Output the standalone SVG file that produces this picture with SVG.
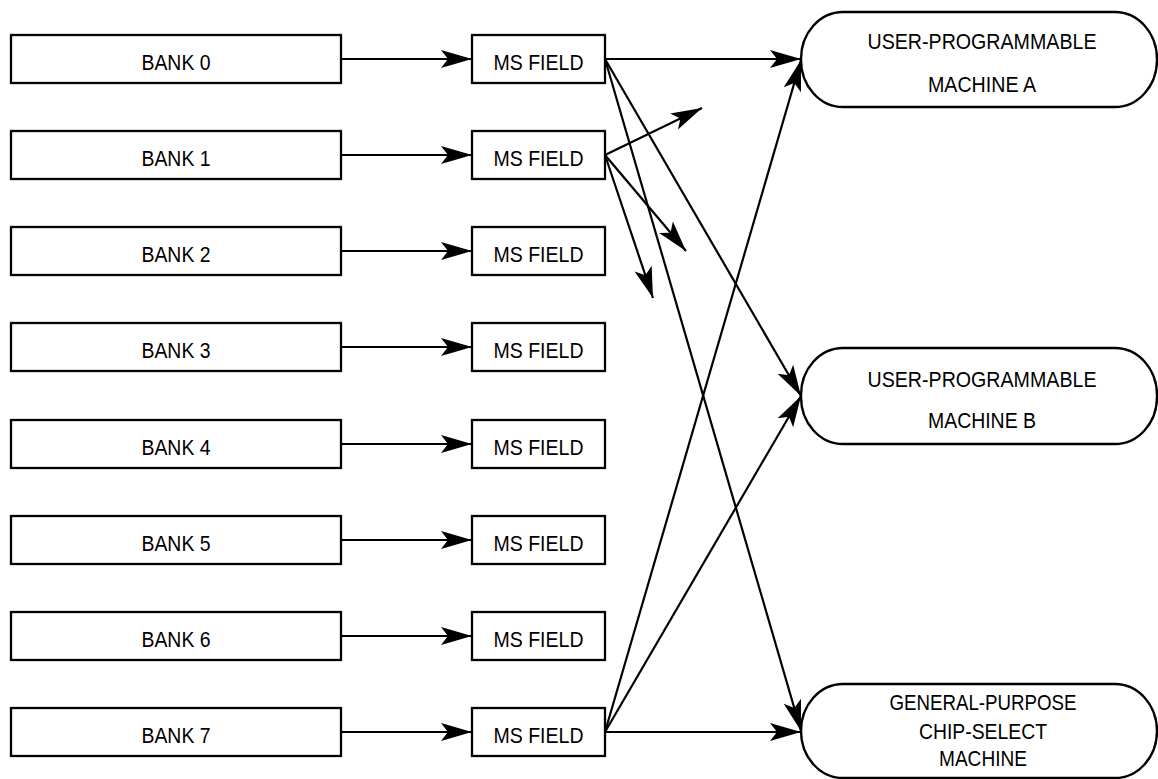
<svg xmlns="http://www.w3.org/2000/svg" width="1158" height="779" viewBox="0 0 1158 779">
<defs>
<style>
.box{fill:#fff;stroke:#000;stroke-width:2.3}
.pill{fill:#fff;stroke:#000;stroke-width:2.4}
.t{font-family:"Liberation Sans",Arial,sans-serif;font-size:22px;fill:#000;text-anchor:middle}
.c{fill:none;stroke:#000;stroke-width:2.2}
</style>
<marker id="ah" viewBox="-32 -10 33 20" refX="0" refY="0" markerWidth="33" markerHeight="20" markerUnits="userSpaceOnUse" orient="auto">
<path d="M0,0 L-31,-9 L-24,0 L-31,9 Z" fill="#000"/>
</marker>
</defs>
<rect width="1158" height="779" fill="#fff"/>

<g id="connectors">
<line class="c" x1="341" y1="59" x2="472" y2="59" marker-end="url(#ah)"/>
<line class="c" x1="341" y1="155" x2="472" y2="155" marker-end="url(#ah)"/>
<line class="c" x1="341" y1="251" x2="472" y2="251" marker-end="url(#ah)"/>
<line class="c" x1="341" y1="347" x2="472" y2="347" marker-end="url(#ah)"/>
<line class="c" x1="341" y1="444" x2="472" y2="444" marker-end="url(#ah)"/>
<line class="c" x1="341" y1="540" x2="472" y2="540" marker-end="url(#ah)"/>
<line class="c" x1="341" y1="636" x2="472" y2="636" marker-end="url(#ah)"/>
<line class="c" x1="341" y1="732" x2="472" y2="732" marker-end="url(#ah)"/>

<line class="c" x1="605" y1="59" x2="801" y2="59" marker-end="url(#ah)"/>
<line class="c" x1="605" y1="59" x2="801" y2="396" marker-end="url(#ah)"/>
<line class="c" x1="605" y1="59" x2="801" y2="731" marker-end="url(#ah)"/>

<line class="c" x1="605" y1="155" x2="702" y2="108" marker-end="url(#ah)"/>
<line class="c" x1="605" y1="155" x2="686" y2="251" marker-end="url(#ah)"/>
<line class="c" x1="605" y1="155" x2="653" y2="298" marker-end="url(#ah)"/>

<line class="c" x1="605" y1="732" x2="801" y2="60" marker-end="url(#ah)"/>
<line class="c" x1="605" y1="732" x2="801" y2="396" marker-end="url(#ah)"/>
<line class="c" x1="605" y1="732" x2="801" y2="732" marker-end="url(#ah)"/>
</g>

<g id="bank0"><rect class="box" x="11" y="35" width="330" height="48"/><text class="t" x="176" y="70" textLength="69" lengthAdjust="spacingAndGlyphs">BANK 0</text></g>
<g id="bank1"><rect class="box" x="11" y="131" width="330" height="48"/><text class="t" x="176" y="166" textLength="69" lengthAdjust="spacingAndGlyphs">BANK 1</text></g>
<g id="bank2"><rect class="box" x="11" y="227" width="330" height="48"/><text class="t" x="176" y="262" textLength="69" lengthAdjust="spacingAndGlyphs">BANK 2</text></g>
<g id="bank3"><rect class="box" x="11" y="323" width="330" height="48"/><text class="t" x="176" y="358" textLength="69" lengthAdjust="spacingAndGlyphs">BANK 3</text></g>
<g id="bank4"><rect class="box" x="11" y="420" width="330" height="48"/><text class="t" x="176" y="455" textLength="69" lengthAdjust="spacingAndGlyphs">BANK 4</text></g>
<g id="bank5"><rect class="box" x="11" y="516" width="330" height="48"/><text class="t" x="176" y="551" textLength="69" lengthAdjust="spacingAndGlyphs">BANK 5</text></g>
<g id="bank6"><rect class="box" x="11" y="612" width="330" height="48"/><text class="t" x="176" y="647" textLength="69" lengthAdjust="spacingAndGlyphs">BANK 6</text></g>
<g id="bank7"><rect class="box" x="11" y="708" width="330" height="48"/><text class="t" x="176" y="743" textLength="69" lengthAdjust="spacingAndGlyphs">BANK 7</text></g>

<g id="ms0"><rect class="box" x="472" y="35" width="133" height="48"/><text class="t" x="538.5" y="70" textLength="90" lengthAdjust="spacingAndGlyphs">MS FIELD</text></g>
<g id="ms1"><rect class="box" x="472" y="131" width="133" height="48"/><text class="t" x="538.5" y="166" textLength="90" lengthAdjust="spacingAndGlyphs">MS FIELD</text></g>
<g id="ms2"><rect class="box" x="472" y="227" width="133" height="48"/><text class="t" x="538.5" y="262" textLength="90" lengthAdjust="spacingAndGlyphs">MS FIELD</text></g>
<g id="ms3"><rect class="box" x="472" y="323" width="133" height="48"/><text class="t" x="538.5" y="358" textLength="90" lengthAdjust="spacingAndGlyphs">MS FIELD</text></g>
<g id="ms4"><rect class="box" x="472" y="420" width="133" height="48"/><text class="t" x="538.5" y="455" textLength="90" lengthAdjust="spacingAndGlyphs">MS FIELD</text></g>
<g id="ms5"><rect class="box" x="472" y="516" width="133" height="48"/><text class="t" x="538.5" y="551" textLength="90" lengthAdjust="spacingAndGlyphs">MS FIELD</text></g>
<g id="ms6"><rect class="box" x="472" y="612" width="133" height="48"/><text class="t" x="538.5" y="647" textLength="90" lengthAdjust="spacingAndGlyphs">MS FIELD</text></g>
<g id="ms7"><rect class="box" x="472" y="708" width="133" height="48"/><text class="t" x="538.5" y="743" textLength="90" lengthAdjust="spacingAndGlyphs">MS FIELD</text></g>

<g id="machineA"><rect class="pill" x="801" y="12" width="356" height="95" rx="42" ry="47"/>
<text class="t" x="982" y="49" textLength="229" lengthAdjust="spacingAndGlyphs">USER-PROGRAMMABLE</text>
<text class="t" x="982" y="92" textLength="108" lengthAdjust="spacingAndGlyphs">MACHINE A</text></g>
<g id="machineB"><rect class="pill" x="801" y="348" width="356" height="96" rx="42" ry="47"/>
<text class="t" x="982" y="386.5" textLength="229" lengthAdjust="spacingAndGlyphs">USER-PROGRAMMABLE</text>
<text class="t" x="982" y="427.5" textLength="108" lengthAdjust="spacingAndGlyphs">MACHINE B</text></g>
<g id="machineC"><rect class="pill" x="801" y="684" width="356" height="94" rx="42" ry="47"/>
<text class="t" x="983" y="710" textLength="187" lengthAdjust="spacingAndGlyphs">GENERAL-PURPOSE</text>
<text class="t" x="983" y="739" textLength="128" lengthAdjust="spacingAndGlyphs">CHIP-SELECT</text>
<text class="t" x="983" y="766" textLength="88" lengthAdjust="spacingAndGlyphs">MACHINE</text></g>
</svg>
